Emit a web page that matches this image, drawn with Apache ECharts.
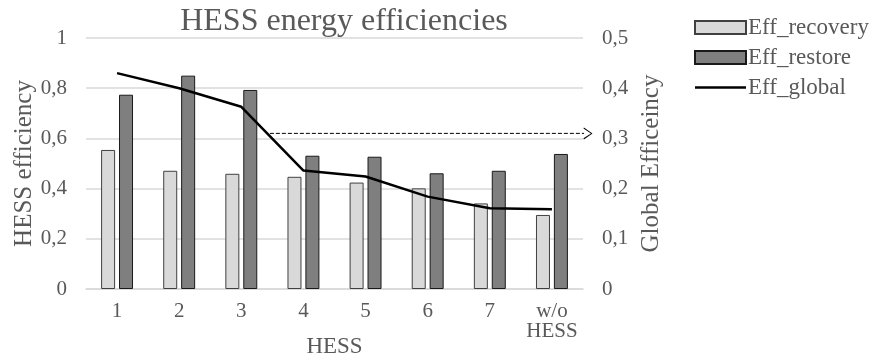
<!DOCTYPE html>
<html>
<head>
<meta charset="utf-8">
<script src="https://cdn.jsdelivr.net/npm/echarts@6/dist/echarts.min.js"></script>
<style>
html,body{margin:0;padding:0;background:#fff;}
#chart{width:875px;height:360px;}
</style>
</head>
<body>
<div id="chart"></div>
<script>
const categories = ['1', '2', '3', '4', '5', '6', '7', 'w/o\nHESS'];
const effRecovery = [0.554, 0.471, 0.459, 0.447, 0.424, 0.401, 0.341, 0.295];
const effRestore = [0.774, 0.850, 0.793, 0.531, 0.527, 0.461, 0.471, 0.538];
const effGlobal = [0.430, 0.400, 0.363, 0.236, 0.224, 0.184, 0.161, 0.159];
const leftTicks = [0, 0.2, 0.4, 0.6, 0.8, 1];
const rightTicks = [0, 0.1, 0.2, 0.3, 0.4, 0.5];
// dashed annotation arrow: [start category position, end category position], level on right axis
const arrowX = [2.96, 8.08];
const arrowY = 0.31;

const FONT = "'Liberation Serif', 'Times New Roman', serif";
const TXT = '#595959';
const fmt = v => String(v).replace('.', ',');
const CHEVRON = 'path://M0,10 L5,0 L10,10 L9.1,10.5 L5,1.8 L0.9,10.5 Z';
const LINE_ICON = 'path://M0,0 L51,0 L51,2.6 L0,2.6 Z';

const chart = echarts.init(document.getElementById('chart'));
chart.setOption({
  animation: false,
  textStyle: { fontFamily: FONT },
  title: {
    text: 'HESS energy efficiencies',
    left: 339, textAlign: 'center', top: 1,
    textStyle: { fontFamily: FONT, fontSize: 32, fontWeight: 'normal', color: TXT }
  },
  legend: {
    orient: 'vertical', left: 689, top: 11,
    itemWidth: 51, itemHeight: 13, itemGap: 7, symbolKeepAspect: true,
    textStyle: { fontFamily: FONT, fontSize: 23, color: TXT, padding: [0, 0, 0, -3] },
    data: [
      { name: 'Eff_recovery', icon: 'rect' },
      { name: 'Eff_restore', icon: 'rect' },
      { name: 'Eff_global', icon: LINE_ICON, itemStyle: { color: '#000' } }
    ]
  },
  grid: { left: 86, right: 292, top: 38, bottom: 71, outerBoundsMode: 'none', containLabel: false },
  xAxis: [{
    type: 'category', data: categories,
    name: 'HESS', nameLocation: 'middle', nameGap: 46, nameMoveOverlap: false,
    nameTextStyle: { fontFamily: FONT, fontSize: 23, color: TXT },
    axisLine: { show: true, lineStyle: { color: '#d9d9d9', width: 1.5 } },
    axisTick: { show: false },
    axisLabel: { fontFamily: FONT, fontSize: 21, color: TXT, margin: 12, lineHeight: 20, interval: 0 }
  }, {
    type: 'value', min: 0, max: 8, show: false
  }],
  yAxis: [{
    type: 'value', min: leftTicks[0], max: leftTicks[leftTicks.length - 1], interval: 0.2,
    name: 'HESS efficiency', nameLocation: 'middle', nameRotate: 90, nameGap: 49, nameMoveOverlap: false,
    nameTextStyle: { fontFamily: FONT, fontSize: 25, color: TXT },
    axisLine: { show: false }, axisTick: { show: false },
    axisLabel: { fontFamily: FONT, fontSize: 21, color: TXT, margin: 19, formatter: fmt },
    splitLine: { lineStyle: { color: '#d9d9d9', width: 1.5 } }
  }, {
    type: 'value', min: rightTicks[0], max: rightTicks[rightTicks.length - 1], interval: 0.1,
    position: 'right',
    name: 'Global Efficeincy', nameLocation: 'middle', nameRotate: 90, nameGap: 56, nameMoveOverlap: false,
    nameTextStyle: { fontFamily: FONT, fontSize: 25, color: TXT },
    axisLine: { show: false }, axisTick: { show: false },
    axisLabel: { fontFamily: FONT, fontSize: 21, color: TXT, margin: 19, formatter: fmt },
    splitLine: { show: false }
  }],
  series: [{
    name: 'Eff_recovery', type: 'bar', data: effRecovery,
    barWidth: 14, barGap: '28%',
    itemStyle: { color: '#d9d9d9', borderColor: '#404040', borderWidth: 1 }
  }, {
    name: 'Eff_restore', type: 'bar', data: effRestore,
    barWidth: 14,
    itemStyle: { color: '#7f7f7f', borderColor: '#1a1a1a', borderWidth: 1 }
  }, {
    name: 'Eff_global', type: 'line', data: effGlobal, yAxisIndex: 1,
    symbol: 'none', lineStyle: { color: '#000', width: 2.5 }, itemStyle: { color: '#000' },
    z: 5
  }, {
    name: 'arrow', type: 'line', xAxisIndex: 1, yAxisIndex: 1, clip: false,
    data: [
      { value: [arrowX[0], arrowY], symbol: 'none' },
      { value: [arrowX[1], arrowY], symbol: CHEVRON, symbolSize: [12, 9], symbolRotate: -90 }
    ],
    showSymbol: true, showAllSymbol: true, silent: true,
    itemStyle: { color: '#000' },
    lineStyle: { color: '#000', width: 1, type: [4, 2] }
  }]
});
</script>
</body>
</html>
